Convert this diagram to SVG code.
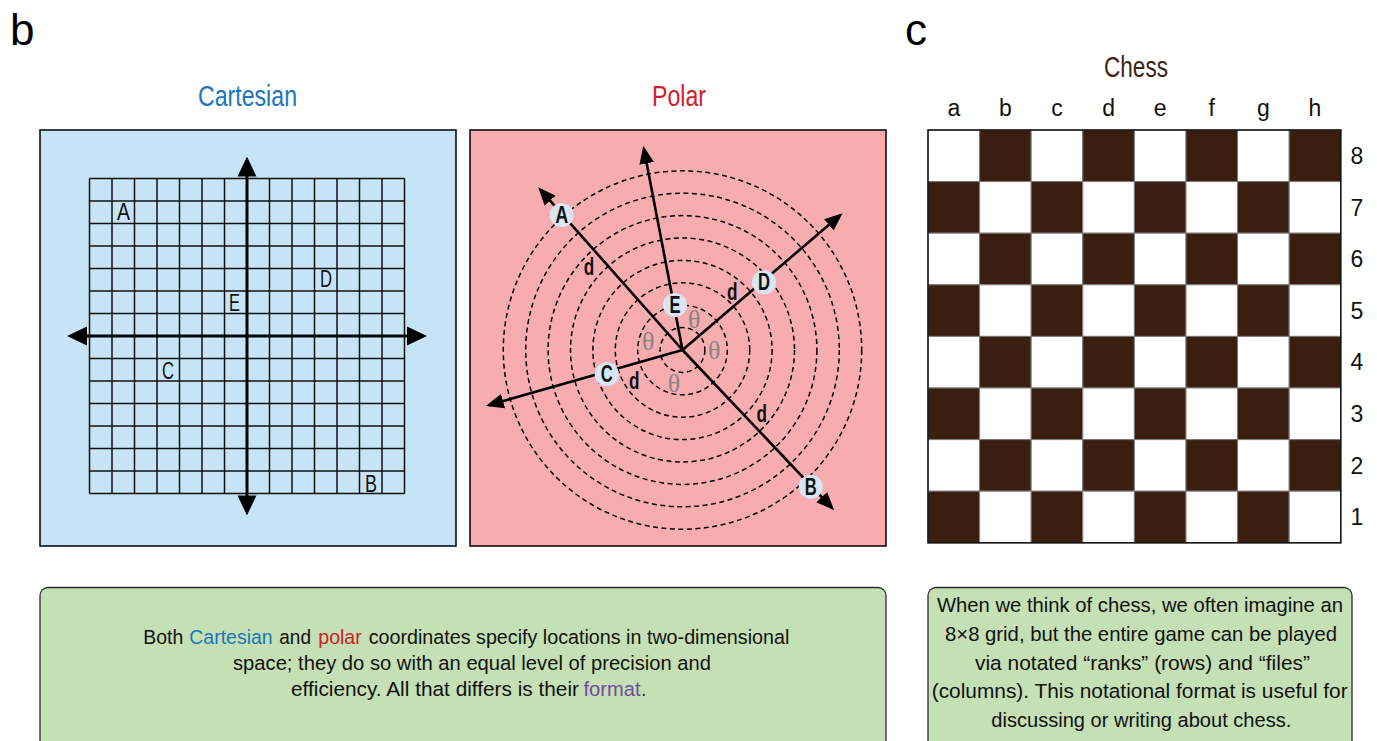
<svg xmlns="http://www.w3.org/2000/svg" width="1377" height="741" viewBox="0 0 1377 741">
<style>
.t{font-family:"Liberation Sans Narrow","Liberation Sans",Arial,sans-serif;}
.big{font-size:44px;fill:#000;}
.title{font-size:29px;text-anchor:middle;}
.lab{font-size:23px;fill:#111;text-anchor:middle;}
.plab{font-size:23px;font-weight:bold;fill:#111;text-anchor:middle;}
.th{font-family:"Liberation Serif","Times New Roman",serif;font-size:26px;fill:#858585;text-anchor:middle;}
.body{font-size:20.5px;fill:#111;}
.mid{text-anchor:middle;}
.grid{stroke:#111;stroke-width:1.5;fill:none;}
.axis{stroke:#000;stroke-width:3;fill:none;}
.ray{stroke:#000;stroke-width:2.6;fill:none;}
.circ{stroke:#000;stroke-width:1.5;fill:none;stroke-dasharray:5 3.5;}
.dot{fill:#d8e6f3;}
.sq{stroke:#7a7a7a;stroke-width:1;}
.dk{fill:#3a1f10;}
.lt{fill:#fff;}
.box{fill:#c5e0b4;stroke:#2a2a2a;stroke-width:1.3;}
</style>
<defs>
<marker id="ah" markerUnits="userSpaceOnUse" markerWidth="20" markerHeight="20" viewBox="0 0 18 18" refX="14" refY="9" orient="auto-start-reverse">
<path d="M0,0.5 L18,9 L0,17.5 z" fill="#000"/>
</marker>
<marker id="ph" markerUnits="userSpaceOnUse" markerWidth="18" markerHeight="16" viewBox="0 0 17 14" refX="13" refY="7" orient="auto">
<path d="M0,0 L17,7 L0,14 z" fill="#000"/>
</marker>
</defs>
<rect width="1377" height="741" fill="#fff"/>

<text class="t big" x="10" y="45">b</text>
<text class="t big" x="905" y="45">c</text>

<g id="cartesian">
<text class="t title" x="247.5" y="106" fill="#1b75bb" textLength="99" lengthAdjust="spacingAndGlyphs">Cartesian</text>
<rect x="40" y="130" width="416" height="416" fill="#c6e4f6" stroke="#000" stroke-width="1.5"/>
<path class="grid" d="M89.5,178.5H404.5M89.5,201H404.5M89.5,223.5H404.5M89.5,246H404.5M89.5,268.5H404.5M89.5,291H404.5M89.5,313.5H404.5M89.5,358.5H404.5M89.5,381H404.5M89.5,403.5H404.5M89.5,426H404.5M89.5,448.5H404.5M89.5,471H404.5M89.5,493.5H404.5
M89.5,178.5V493.5M112,178.5V493.5M134.5,178.5V493.5M157,178.5V493.5M179.5,178.5V493.5M202,178.5V493.5M224.5,178.5V493.5M269.5,178.5V493.5M292,178.5V493.5M314.5,178.5V493.5M337,178.5V493.5M359.5,178.5V493.5M382,178.5V493.5M404.5,178.5V493.5"/>
<g id="c-axes">
<line class="axis" x1="247" y1="161" x2="247" y2="511" marker-start="url(#ah)" marker-end="url(#ah)"/>
<line class="axis" x1="71.5" y1="336" x2="422.5" y2="336" marker-start="url(#ah)" marker-end="url(#ah)"/>
</g>
<text class="t lab" x="123.5" y="220" textLength="13" lengthAdjust="spacingAndGlyphs">A</text>
<text class="t lab" x="371" y="491.5" textLength="12" lengthAdjust="spacingAndGlyphs">B</text>
<text class="t lab" x="168" y="378.5" textLength="12" lengthAdjust="spacingAndGlyphs">C</text>
<text class="t lab" x="326" y="286.5" textLength="12" lengthAdjust="spacingAndGlyphs">D</text>
<text class="t lab" x="234.5" y="310.5" textLength="11" lengthAdjust="spacingAndGlyphs">E</text>
</g>

<g id="polar">
<text class="t title" x="679" y="106" fill="#cc2229" textLength="54" lengthAdjust="spacingAndGlyphs">Polar</text>
<rect x="470" y="130" width="416" height="416" fill="#f7adb0" stroke="#000" stroke-width="1.5"/>
<g id="rings">
<circle class="circ" cx="682.5" cy="350" r="22.4"/>
<circle class="circ" cx="682.5" cy="350" r="44.8"/>
<circle class="circ" cx="682.5" cy="350" r="67.2"/>
<circle class="circ" cx="682.5" cy="350" r="89.6"/>
<circle class="circ" cx="682.5" cy="350" r="112"/>
<circle class="circ" cx="682.5" cy="350" r="134.4"/>
<circle class="circ" cx="682.5" cy="350" r="156.8"/>
<circle class="circ" cx="682.5" cy="350" r="179.2"/>
</g>
<g id="rays">
<line class="ray" x1="682.5" y1="350" x2="541" y2="190.3" marker-end="url(#ph)"/>
<line class="ray" x1="682.5" y1="350" x2="644.1" y2="149.9" marker-end="url(#ph)"/>
<line class="ray" x1="682.5" y1="350" x2="839.3" y2="215.9" marker-end="url(#ph)"/>
<line class="ray" x1="682.5" y1="350" x2="489.8" y2="404.9" marker-end="url(#ph)"/>
<line class="ray" x1="682.5" y1="350" x2="831.2" y2="507.1" marker-end="url(#ph)"/>
</g>
<g id="pA"><circle class="dot" cx="561.7" cy="215" r="12"/><text class="t plab" x="561.7" y="223" textLength="13" lengthAdjust="spacingAndGlyphs">A</text></g>
<g id="pB"><circle class="dot" cx="810.7" cy="486.7" r="12"/><text class="t plab" x="810.7" y="494.7" textLength="12" lengthAdjust="spacingAndGlyphs">B</text></g>
<g id="pC"><circle class="dot" cx="606.7" cy="374.3" r="12"/><text class="t plab" x="606.7" y="382.3" textLength="12" lengthAdjust="spacingAndGlyphs">C</text></g>
<g id="pD"><circle class="dot" cx="764" cy="282.3" r="12"/><text class="t plab" x="764" y="290.3" textLength="12" lengthAdjust="spacingAndGlyphs">D</text></g>
<g id="pE"><circle class="dot" cx="675" cy="305" r="12"/><text class="t plab" x="675" y="313" textLength="11" lengthAdjust="spacingAndGlyphs">E</text></g>
<text class="t plab" x="589" y="275" textLength="10.5" lengthAdjust="spacingAndGlyphs">d</text>
<text class="t plab" x="732.3" y="299.5" textLength="10.5" lengthAdjust="spacingAndGlyphs">d</text>
<text class="t plab" x="634.3" y="389" textLength="10.5" lengthAdjust="spacingAndGlyphs">d</text>
<text class="t plab" x="761.7" y="421.5" textLength="10.5" lengthAdjust="spacingAndGlyphs">d</text>
<text class="th" x="694.3" y="327.5">θ</text>
<text class="th" x="648.3" y="350">θ</text>
<text class="th" x="714.3" y="358.5">θ</text>
<text class="th" x="674" y="391.5">θ</text>
</g>

<g id="chess">
<text class="t title" x="1136" y="77" fill="#3d2314" textLength="64" lengthAdjust="spacingAndGlyphs">Chess</text>
<g id="files" class="t">
<text class="lab" x="953.8" y="116">a</text>
<text class="lab" x="1005.4" y="116">b</text>
<text class="lab" x="1057" y="116">c</text>
<text class="lab" x="1108.6" y="116">d</text>
<text class="lab" x="1160.2" y="116">e</text>
<text class="lab" x="1211.8" y="116">f</text>
<text class="lab" x="1263.4" y="116">g</text>
<text class="lab" x="1315" y="116">h</text>
</g>
<g id="ranks" class="t">
<text class="lab" x="1357" y="164">8</text>
<text class="lab" x="1357" y="215.6">7</text>
<text class="lab" x="1357" y="267.2">6</text>
<text class="lab" x="1357" y="318.8">5</text>
<text class="lab" x="1357" y="370.4">4</text>
<text class="lab" x="1357" y="422">3</text>
<text class="lab" x="1357" y="473.6">2</text>
<text class="lab" x="1357" y="525.2">1</text>
</g>
<g id="board" class="sq">
<rect class="lt" x="928" y="130" width="51.6" height="51.6"/><rect class="dk" x="979.6" y="130" width="51.6" height="51.6"/><rect class="lt" x="1031.2" y="130" width="51.6" height="51.6"/><rect class="dk" x="1082.8" y="130" width="51.6" height="51.6"/><rect class="lt" x="1134.4" y="130" width="51.6" height="51.6"/><rect class="dk" x="1186" y="130" width="51.6" height="51.6"/><rect class="lt" x="1237.6" y="130" width="51.6" height="51.6"/><rect class="dk" x="1289.2" y="130" width="51.6" height="51.6"/>
<rect class="dk" x="928" y="181.6" width="51.6" height="51.6"/><rect class="lt" x="979.6" y="181.6" width="51.6" height="51.6"/><rect class="dk" x="1031.2" y="181.6" width="51.6" height="51.6"/><rect class="lt" x="1082.8" y="181.6" width="51.6" height="51.6"/><rect class="dk" x="1134.4" y="181.6" width="51.6" height="51.6"/><rect class="lt" x="1186" y="181.6" width="51.6" height="51.6"/><rect class="dk" x="1237.6" y="181.6" width="51.6" height="51.6"/><rect class="lt" x="1289.2" y="181.6" width="51.6" height="51.6"/>
<rect class="lt" x="928" y="233.2" width="51.6" height="51.6"/><rect class="dk" x="979.6" y="233.2" width="51.6" height="51.6"/><rect class="lt" x="1031.2" y="233.2" width="51.6" height="51.6"/><rect class="dk" x="1082.8" y="233.2" width="51.6" height="51.6"/><rect class="lt" x="1134.4" y="233.2" width="51.6" height="51.6"/><rect class="dk" x="1186" y="233.2" width="51.6" height="51.6"/><rect class="lt" x="1237.6" y="233.2" width="51.6" height="51.6"/><rect class="dk" x="1289.2" y="233.2" width="51.6" height="51.6"/>
<rect class="dk" x="928" y="284.8" width="51.6" height="51.6"/><rect class="lt" x="979.6" y="284.8" width="51.6" height="51.6"/><rect class="dk" x="1031.2" y="284.8" width="51.6" height="51.6"/><rect class="lt" x="1082.8" y="284.8" width="51.6" height="51.6"/><rect class="dk" x="1134.4" y="284.8" width="51.6" height="51.6"/><rect class="lt" x="1186" y="284.8" width="51.6" height="51.6"/><rect class="dk" x="1237.6" y="284.8" width="51.6" height="51.6"/><rect class="lt" x="1289.2" y="284.8" width="51.6" height="51.6"/>
<rect class="lt" x="928" y="336.4" width="51.6" height="51.6"/><rect class="dk" x="979.6" y="336.4" width="51.6" height="51.6"/><rect class="lt" x="1031.2" y="336.4" width="51.6" height="51.6"/><rect class="dk" x="1082.8" y="336.4" width="51.6" height="51.6"/><rect class="lt" x="1134.4" y="336.4" width="51.6" height="51.6"/><rect class="dk" x="1186" y="336.4" width="51.6" height="51.6"/><rect class="lt" x="1237.6" y="336.4" width="51.6" height="51.6"/><rect class="dk" x="1289.2" y="336.4" width="51.6" height="51.6"/>
<rect class="dk" x="928" y="388" width="51.6" height="51.6"/><rect class="lt" x="979.6" y="388" width="51.6" height="51.6"/><rect class="dk" x="1031.2" y="388" width="51.6" height="51.6"/><rect class="lt" x="1082.8" y="388" width="51.6" height="51.6"/><rect class="dk" x="1134.4" y="388" width="51.6" height="51.6"/><rect class="lt" x="1186" y="388" width="51.6" height="51.6"/><rect class="dk" x="1237.6" y="388" width="51.6" height="51.6"/><rect class="lt" x="1289.2" y="388" width="51.6" height="51.6"/>
<rect class="lt" x="928" y="439.6" width="51.6" height="51.6"/><rect class="dk" x="979.6" y="439.6" width="51.6" height="51.6"/><rect class="lt" x="1031.2" y="439.6" width="51.6" height="51.6"/><rect class="dk" x="1082.8" y="439.6" width="51.6" height="51.6"/><rect class="lt" x="1134.4" y="439.6" width="51.6" height="51.6"/><rect class="dk" x="1186" y="439.6" width="51.6" height="51.6"/><rect class="lt" x="1237.6" y="439.6" width="51.6" height="51.6"/><rect class="dk" x="1289.2" y="439.6" width="51.6" height="51.6"/>
<rect class="dk" x="928" y="491.2" width="51.6" height="51.6"/><rect class="lt" x="979.6" y="491.2" width="51.6" height="51.6"/><rect class="dk" x="1031.2" y="491.2" width="51.6" height="51.6"/><rect class="lt" x="1082.8" y="491.2" width="51.6" height="51.6"/><rect class="dk" x="1134.4" y="491.2" width="51.6" height="51.6"/><rect class="lt" x="1186" y="491.2" width="51.6" height="51.6"/><rect class="dk" x="1237.6" y="491.2" width="51.6" height="51.6"/><rect class="lt" x="1289.2" y="491.2" width="51.6" height="51.6"/>
</g>
<rect x="928" y="130" width="412.8" height="412.8" fill="none" stroke="#111" stroke-width="1.5"/>
</g>

<g id="note-b">
<rect class="box" x="40" y="587.5" width="846" height="170" rx="8"/>
<text class="t body" x="143.3" y="643.5" textLength="40" lengthAdjust="spacingAndGlyphs">Both</text>
<text class="t body" x="189.3" y="643.5" style="fill:#1b75bb" textLength="83.4" lengthAdjust="spacingAndGlyphs">Cartesian</text>
<text class="t body" x="279.3" y="643.5" textLength="31.7" lengthAdjust="spacingAndGlyphs">and</text>
<text class="t body" x="318.3" y="643.5" style="fill:#cc2229" textLength="43.4" lengthAdjust="spacingAndGlyphs">polar</text>
<text class="t body" x="368.7" y="643.5" textLength="420.6" lengthAdjust="spacingAndGlyphs">coordinates specify locations in two-dimensional</text>
<text class="t body mid" x="472" y="670" textLength="478" lengthAdjust="spacingAndGlyphs">space; they do so with an equal level of precision and</text>
<text class="t body" x="291" y="696" textLength="288" lengthAdjust="spacingAndGlyphs">efficiency. All that differs is their</text>
<text class="t body" x="583.5" y="696" style="fill:#6f4a9c" textLength="57" lengthAdjust="spacingAndGlyphs">format</text>
<text class="t body" x="641.5" y="696" textLength="4.5" lengthAdjust="spacingAndGlyphs">.</text>
</g>

<g id="note-c">
<rect class="box" x="928" y="587.5" width="424" height="170" rx="8"/>
<text class="t body mid" x="1140" y="611.7" textLength="406" lengthAdjust="spacingAndGlyphs">When we think of chess, we often imagine an</text>
<text class="t body mid" x="1141" y="640.7" textLength="392" lengthAdjust="spacingAndGlyphs">8×8 grid, but the entire game can be played</text>
<text class="t body mid" x="1142.5" y="669.5" textLength="335" lengthAdjust="spacingAndGlyphs">via notated “ranks” (rows) and “files”</text>
<text class="t body mid" x="1139.7" y="698.3" textLength="416" lengthAdjust="spacingAndGlyphs">(columns). This notational format is useful for</text>
<text class="t body mid" x="1141.3" y="726.7" textLength="300" lengthAdjust="spacingAndGlyphs">discussing or writing about chess.</text>
</g>
</svg>
